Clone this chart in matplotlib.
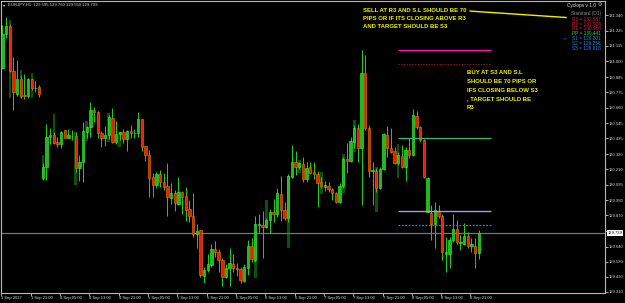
import matplotlib
matplotlib.use('Agg')
import matplotlib.pyplot as plt
import matplotlib.transforms as mtransforms

# ---------------- data (EURJPY H1) ----------------
opens = [130.948, 131.198, 131.261, 130.931, 130.758, 130.870, 130.753, 130.748, 130.870, 130.802,
         130.811, 130.141, 130.227, 130.444, 130.459, 130.410, 130.391, 130.493, 130.440, 130.454,
         130.454, 130.215, 130.259, 130.484, 130.518, 130.640, 130.625, 130.476, 130.435, 130.459,
         130.586, 130.405, 130.464, 130.479, 130.430, 130.488, 130.476, 130.471, 130.574, 130.376,
         130.312, 130.151, 130.092, 130.170, 130.117, 130.085, 129.999, 130.031, 129.955, 130.039,
         130.009, 129.916, 129.867, 129.735, 129.760, 129.427, 129.469, 129.505, 129.623, 129.603,
         129.542, 129.420, 129.481, 129.510, 129.481, 129.474, 129.388, 129.486, 129.645, 129.542,
         129.799, 129.799, 129.786, 129.835, 129.892, 129.877, 130.024, 129.906, 129.853, 130.153,
         130.259, 130.224, 130.246, 130.136, 130.222, 130.185, 130.173, 130.112, 130.080, 130.085,
         130.063, 130.031, 129.965, 130.085, 130.283, 130.268, 130.410, 130.508, 130.361, 130.912,
         130.513, 130.195, 130.197, 130.068, 130.210, 130.459, 130.366, 130.342, 130.256, 130.308,
         130.227, 130.349, 130.312, 130.599, 130.521, 130.422, 129.897, 129.884, 129.804, 129.904,
         129.867, 129.584, 129.584, 129.686, 129.769, 129.664, 129.659, 129.718, 129.647, 129.647,
         129.595]
highs = [131.266, 131.328, 131.271, 131.034, 131.010, 130.899, 130.904, 130.880, 130.880, 130.855,
         130.826, 130.252, 130.537, 130.508, 130.484, 130.447, 130.488, 130.498, 130.503, 130.493,
         130.479, 130.312, 130.557, 130.528, 130.699, 130.667, 130.635, 130.488, 130.528, 130.606,
         130.660, 130.562, 130.479, 130.503, 130.493, 130.532, 130.503, 130.625, 130.577, 130.381,
         130.347, 130.178, 130.190, 130.202, 130.178, 130.251, 130.105, 130.056, 130.149, 130.048,
         130.075, 129.982, 130.031, 129.806, 129.762, 129.493, 129.584, 129.657, 129.681, 129.623,
         129.554, 129.510, 129.628, 129.584, 129.518, 129.493, 129.510, 129.689, 129.701, 129.867,
         129.877, 129.902, 129.848, 129.916, 129.990, 130.073, 130.158, 129.970, 130.170, 130.386,
         130.342, 130.263, 130.298, 130.259, 130.259, 130.259, 130.195, 130.153, 130.122, 130.112,
         130.073, 130.043, 130.105, 130.300, 130.403, 130.447, 130.532, 130.537, 131.083, 131.046,
         130.532, 130.263, 130.215, 130.227, 130.471, 130.528, 130.508, 130.373, 130.337, 130.386,
         130.373, 130.435, 130.650, 130.635, 130.528, 130.430, 130.153, 129.946, 129.965, 129.946,
         129.877, 129.713, 129.713, 129.877, 129.835, 129.725, 129.816, 129.745, 129.701, 129.701,
         129.760]
lows = [130.943, 131.169, 130.924, 130.643, 130.748, 130.728, 130.723, 130.733, 130.789, 130.772,
        130.741, 130.129, 130.129, 130.391, 130.391, 130.373, 130.366, 130.435, 130.435, 130.422,
        130.190, 130.124, 130.117, 130.435, 130.447, 130.557, 130.435, 130.373, 130.381, 130.430,
        130.398, 130.391, 130.422, 130.398, 130.344, 130.435, 130.435, 130.447, 130.342, 130.268,
        130.007, 130.007, 130.073, 130.080, 130.056, 129.867, 129.955, 129.902, 129.946, 129.877,
        129.828, 129.823, 129.713, 129.628, 129.420, 129.371, 129.457, 129.493, 129.567, 129.457,
        129.354, 129.413, 129.354, 129.457, 129.427, 129.371, 129.383, 129.432, 129.530, 129.530,
        129.750, 129.554, 129.774, 129.742, 129.823, 129.860, 129.828, 129.835, 129.823, 130.146,
        130.166, 130.210, 130.117, 130.112, 130.170, 130.136, 129.933, 130.068, 130.048, 130.043,
        129.982, 129.958, 129.958, 130.073, 130.178, 130.263, 130.361, 130.263, 129.946, 130.496,
        130.153, 129.946, 130.043, 130.063, 130.202, 130.300, 130.325, 130.244, 130.239, 130.215,
        130.122, 130.293, 130.308, 130.503, 130.410, 130.141, 129.892, 129.689, 129.628, 129.848,
        129.542, 129.457, 129.481, 129.672, 129.662, 129.615, 129.652, 129.632, 129.603, 129.481,
        129.550]
closes = [131.198, 131.261, 130.931, 130.772, 130.870, 130.748, 130.748, 130.870, 130.802, 130.807,
          130.763, 130.227, 130.447, 130.459, 130.398, 130.396, 130.484, 130.440, 130.459, 130.452,
          130.215, 130.259, 130.488, 130.518, 130.640, 130.625, 130.471, 130.435, 130.459, 130.591,
          130.405, 130.469, 130.479, 130.430, 130.488, 130.471, 130.474, 130.577, 130.373, 130.312,
          130.146, 130.092, 130.170, 130.117, 130.080, 130.002, 130.031, 129.958, 130.039, 130.007,
          129.911, 129.867, 129.735, 129.755, 129.432, 129.469, 129.510, 129.623, 129.603, 129.542,
          129.420, 129.481, 129.518, 129.481, 129.479, 129.393, 129.491, 129.645, 129.547, 129.806,
          129.806, 129.786, 129.835, 129.892, 129.877, 130.031, 129.909, 129.853, 130.161, 130.259,
          130.227, 130.254, 130.134, 130.217, 130.178, 130.170, 130.109, 130.087, 130.092, 130.063,
          130.031, 129.965, 130.085, 130.283, 130.268, 130.415, 130.513, 130.366, 130.912, 130.508,
          130.197, 130.202, 130.068, 130.210, 130.464, 130.366, 130.337, 130.256, 130.312, 130.224,
          130.349, 130.312, 130.606, 130.521, 130.422, 130.153, 130.146, 129.804, 129.909, 129.867,
          129.598, 129.603, 129.686, 129.769, 129.672, 129.676, 129.718, 129.647, 129.657, 129.591,
          129.739]

# dark-green overlay bars (every third bar where visible)
dg_idx = [2, 5, 8, 11, 14, 20, 23, 29, 32, 69, 72, 78, 81, 87, 93, 96, 102, 108]
dg_high = [131.303, 130.936, 130.912, 130.312, 130.611, 130.479, 130.562, 130.618, 130.479,
           129.701, 129.982, 130.161, 130.273, 130.185, 130.317, 130.569, 130.227, 130.391]
dg_low = [130.733, 130.728, 130.733, 130.129, 130.391, 130.092, 130.415, 130.410, 130.373,
          129.408, 129.774, 129.628, 130.178, 130.024, 130.031, 130.337, 129.897, 130.146]

time_labels = ['1 Sep 2017', '1 Sep 21:00', '4 Sep 05:00', '4 Sep 13:00', '4 Sep 21:00',
               '5 Sep 05:00', '5 Sep 13:00', '5 Sep 21:00', '6 Sep 05:00', '6 Sep 13:00',
               '6 Sep 21:00', '7 Sep 05:00', '7 Sep 13:00', '7 Sep 21:00', '8 Sep 05:00',
               '8 Sep 13:00', '8 Sep 21:00']
price_ticks = ['131.340', '131.225', '131.115', '131.000', '130.885', '130.775', '130.660',
               '130.545', '130.435', '130.320', '130.210', '130.095', '129.980', '129.870',
               '129.755', '129.640', '129.530', '129.420', '129.310']

pivot_names = ['R3', 'R2', 'R1', 'PP', 'S1', 'S2', 'S3']
pivot_values = [132.987, 131.924, 130.984, 130.441, 129.801, 129.258, 128.618]
user_levels = [131.083, 129.900]

header = ['EURJPY,H1', '129.595', '129.760', '129.550', '129.739']
sell_text = ['SELL AT R3 AND S.L SHOULD BE 70', 'PIPS OR IF ITS CLOSING ABOVE R3',
             'AND TARGET SHOULD BE S3']
buy_text = ['BUY AT S3 AND S.L', 'SHOULD BE 70 PIPS OR', 'IFS CLOSING BELOW S3',
            ', TARGET SHOULD BE', 'R3']

# ---------------- figure ----------------
W, H = 625, 303
FONT = ['Liberation Sans', 'DejaVu Sans']
plt.rcParams['font.family'] = FONT

fig = plt.figure(figsize=(W / 100, H / 100), dpi=100, facecolor='black')
ax = fig.add_axes([1.5 / W, (H - 292.5) / H, (605 - 1.5) / W, (292.5 - 1) / H])
ax.set_facecolor('black')

PX = 3.667           # pixels per bar
X0 = 2.0             # pixel of first bar centre
ax.set_xlim((1.5 - X0) / PX, (605 - X0) / PX)
ax.set_ylim(129.304, 131.443)

def fx(px):
    return px / W

def fy(py):
    return 1 - py / H

n = len(opens)
xs = list(range(n))

# dark green overlay
ax.bar(dg_idx, [h - l for h, l in zip(dg_high, dg_low)], bottom=dg_low, width=0.7,
       color='#0b520b', edgecolor='none', zorder=1)

# wicks
ax.vlines(xs, lows, highs, color='#1fd11f', linewidth=0.7, zorder=2)

# bodies
for i in xs:
    o, c = opens[i], closes[i]
    bot = min(o, c)
    h = max(abs(c - o), 0.004)
    if c >= o:
        ax.bar(i, h, bottom=bot, width=0.64, color='#22b822', edgecolor='#33ff33',
               linewidth=0.4, zorder=3)
    else:
        ax.bar(i, h, bottom=bot, width=0.64, color='#f01a00', edgecolor='#f08000',
               linewidth=0.4, zorder=3)

# level lines (today)
lx0 = (398 - X0) / PX
lx1 = (491 - X0) / PX
ax.hlines(user_levels[0], lx0, lx1, color='#ff14b4', linewidth=1.0, zorder=4)
ax.hlines(pivot_values[2], lx0, lx1, color='#9a1020', linewidth=0.9, linestyles=(0, (1, 1.2)), zorder=4)
ax.hlines(pivot_values[3], lx0, lx1, color='#2ebd78', linewidth=0.9, zorder=4)
ax.hlines(user_levels[1], lx0, lx1, color='#a596f5', linewidth=1.0, zorder=4)
ax.hlines(pivot_values[4], lx0, lx1, color='#2a7ff0', linewidth=0.9, linestyles=(0, (1.5, 1.2)), zorder=4)

# bid line
ax.axhline(closes[-1], color='#6f7780', linewidth=0.9, zorder=1.5)

# yellow trend line
ax.plot([(470 - X0) / PX, (566 - X0) / PX], [131.369, 131.322], color='#f0f000',
        linewidth=1.0, zorder=5, clip_on=False)

# axes styling
for s in ax.spines.values():
    s.set_color('#b8b8b8')
    s.set_linewidth(0.8)

ax.yaxis.tick_right()
ax.set_yticks([float(t) for t in price_ticks])
ax.set_yticklabels(price_ticks)
ax.tick_params(axis='y', length=2.2, width=0.6, color='#c8c8c8', labelcolor='#d8d8d8',
               labelsize=3.0, pad=0.8)

xt = [i * 8 - 0.27 for i in range(len(time_labels))]
ax.set_xticks(xt)
ax.set_xticklabels(time_labels)
ax.tick_params(axis='x', length=2.0, width=0.6, color='#c8c8c8', labelcolor='#d8d8d8',
               labelsize=3.0, pad=0.6)
for lab in ax.get_xticklabels():
    lab.set_horizontalalignment('left')

# current price box
trans = mtransforms.blended_transform_factory(ax.transAxes, ax.transData)
ax.text(1.004, closes[-1], '%.3f' % closes[-1], transform=trans, ha='left', va='center',
        fontsize=3.0, color='black', zorder=10, clip_on=False,
        bbox=dict(facecolor='white', edgecolor='none', pad=0.6))

# header
fig.text(fx(2.8), fy(4.9), '\u25be', fontsize=3.2, color='#e0e0e0', ha='left', va='center',
         family=['DejaVu Sans'])
fig.text(fx(8.3), fy(4.9), header[0] + '  ' + ' '.join(header[1:]), fontsize=3.1,
         color='#d8d8d8', ha='left', va='center')

# yellow notes
for k, t in enumerate(sell_text):
    fig.text(fx(363), fy(10.2 + 8.35 * k), t, fontsize=4.35, fontweight='bold',
             color='#f2f200', ha='left', va='center')
for k, t in enumerate(buy_text):
    fig.text(fx(467), fy(72.7 + 8.65 * k), t, fontsize=4.35, fontweight='bold',
             color='#f2f200', ha='left', va='center')

# Cyclops legend
fig.text(fx(596), fy(5.0), 'Cyclops v 1.0', fontsize=3.4, color='#e8e8e8', ha='right', va='center')
fig.text(fx(602), fy(5.0), '\u2699', fontsize=3.6, color='#c8c8c8', ha='right', va='center',
         family=['DejaVu Sans'])
fig.text(fx(601), fy(14.0), 'Standard (D1)', fontsize=3.4, color='#8c8c8c', ha='right', va='center')
pcol = {'R': '#e0203c', 'P': '#22dd22', 'S': '#2288ee'}
for k, (nm, v) in enumerate(zip(pivot_names, pivot_values)):
    yy = 19.3 + 4.85 * k
    fig.text(fx(601), fy(yy), '%s = %.3f' % (nm, v), fontsize=3.4, color=pcol[nm[0]],
             ha='right', va='center')
fig.text(fx(563), fy(19.3 + 4.85 * 4), '>>', fontsize=3.0, color=pcol['S'], ha='left', va='center')

fig.savefig('out.png', dpi=100, facecolor='black')
